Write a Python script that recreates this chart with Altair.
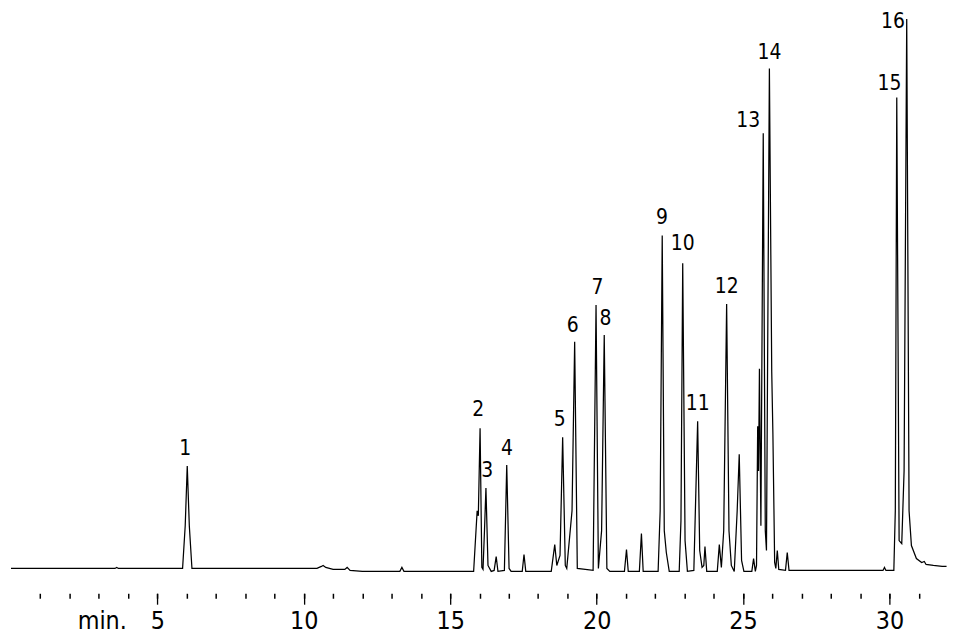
import altair as alt
import pandas as pd

# Chromatogram trace vertices (time in min, detector signal in arbitrary units)
trace_time = [
    0.00, 3.55, 3.61, 3.67, 5.86, 5.95, 6.02, 6.09, 6.18,
    10.45, 10.60, 10.66, 10.75, 11.00, 11.40, 11.48, 11.58, 12.00, 13.28, 13.35, 13.42,
    15.80, 15.92, 15.96, 16.02, 16.08, 16.12, 16.17, 16.22, 16.29, 16.40,
    16.50, 16.57, 16.63, 16.85, 16.93, 17.01, 17.08, 17.46, 17.52, 17.58,
    18.45, 18.57, 18.64, 18.75, 18.84, 18.93, 18.98, 19.16, 19.25, 19.34,
    19.88, 19.98, 20.06, 20.17, 20.26, 20.35, 20.45,
    20.95, 21.02, 21.08, 21.46, 21.53, 21.59,
    22.10, 22.17, 22.24, 22.31, 22.38, 22.48,
    22.82, 22.88, 22.94, 23.02, 23.10,
    23.32, 23.45, 23.52, 23.60, 23.66, 23.70, 23.76,
    24.12, 24.19, 24.26, 24.34, 24.44, 24.52, 24.60, 24.70,
    24.80, 24.87, 24.95, 25.03, 25.30, 25.36, 25.42,
    25.46, 25.50, 25.53, 25.56, 25.61, 25.69, 25.76, 25.80, 25.90, 25.98, 26.02,
    26.08, 26.12, 26.17, 26.22, 26.45, 26.51, 26.57, 26.70,
    29.78, 29.83, 29.88, 30.15, 30.20, 30.25, 30.33, 30.42, 30.50, 30.59,
    30.67, 30.75, 30.92, 31.10, 31.19, 31.25, 31.50, 31.80, 31.95,
]
trace_signal = [
    2, 2, 3, 2, 2, 45, 105, 45, 2,
    2, 4, 5, 3, 1, 1, 3, 0, -1, -1, 3, -1,
    -1, 60, 55, 143, 3, 1, 40, 83, 5, -1,
    0, 14, -1, 0, 106, 2, -1, -1, 16, -1,
    -1, 26, 5, 15, 134, 5, 2, 60, 230, 2,
    0, 267, 2, 40, 237, 2, -1,
    -1, 21, -1, -1, 37, -1,
    -1, 60, 337, 40, 18, -1,
    -1, 50, 309, 30, -1,
    0, 150, 20, 3, 5, 24, -1,
    -1, 26, 3, 40, 268, 40, 5, -1,
    60, 117, 10, -1, -1, 12, -1,
    5, 145, 100, 203, 45, 440, 40, 20, 505, 200, 137,
    8, 2, 20, 1, 0, 18, 0, 0,
    0, 3, 0, 0, 60, 476, 30, 27, 100, 555,
    60, 25, 12, 8, 9, 6, 5, 4, 4,
]

# Peak numbers and label anchor positions (min, signal)
peak_names = ["1", "2", "3", "4", "5", "6", "7", "8",
              "9", "10", "11", "12", "13", "14", "15", "16"]
label_time = [5.95, 15.96, 16.26, 16.94, 18.74, 19.18, 20.03, 20.30,
              22.23, 22.94, 23.45, 24.44, 25.18, 25.90, 30.00, 30.12]
label_signal = [122, 161, 100, 122, 151, 246, 284, 253,
                355, 328, 167, 285, 452, 521, 489, 552]

# Axis: minor ticks every minute, labelled major ticks every 5 min, unit label position
minor_ticks = list(range(1, 32))
major_ticks = [5, 10, 15, 20, 25, 30]
unit_label_pos = 3.10
unit_label = "min."

trace = pd.DataFrame({"t": trace_time, "s": trace_signal})
labels = pd.DataFrame({"t": label_time, "s": label_signal, "name": peak_names})

FONT = "DejaVu Sans Condensed"

x_scale = alt.Scale(domain=[0, 32], nice=False, zero=False)
y_scale = alt.Scale(domain=[0, 561], nice=False, zero=False)

major_axis = alt.Axis(
    orient="bottom",
    values=[unit_label_pos] + major_ticks,
    labelExpr=f"datum.value < 4 ? '{unit_label}' : datum.label",
    tickSize=11,
    tickOpacity={"condition": {"test": "datum.value < 4", "value": 0}, "value": 1},
    tickColor="black",
    tickWidth=1.3,
    domain=False,
    grid=False,
    offset=23,
    labelFont=FONT,
    labelFontSize=25,
    labelColor="black",
    labelPadding=4,
    labelFlush=False,
    labelOverlap=False,
    title=None,
)

minor_axis = alt.Axis(
    orient="bottom",
    values=minor_ticks,
    labels=False,
    tickSize=5,
    tickColor="black",
    tickWidth=1.5,
    domain=False,
    grid=False,
    offset=23,
    title=None,
)

line = alt.Chart(trace).mark_line(color="black", strokeWidth=1.25).encode(
    x=alt.X("t:Q", scale=x_scale, axis=major_axis),
    y=alt.Y("s:Q", scale=y_scale, axis=None),
    order="t:Q",
)

text = alt.Chart(labels).mark_text(
    font=FONT, fontSize=21, color="black", align="center", baseline="middle"
).encode(
    x=alt.X("t:Q", scale=x_scale, axis=minor_axis),
    y=alt.Y("s:Q", scale=y_scale, axis=None),
    text="name:N",
)

chart = alt.layer(line, text).resolve_axis(x="independent").properties(
    width=943, height=561, padding={"left": 0, "right": 0, "top": 0, "bottom": 0}
).configure_view(stroke=None)

chart.save("out.html", embed_options={"renderer": "svg", "actions": False})
